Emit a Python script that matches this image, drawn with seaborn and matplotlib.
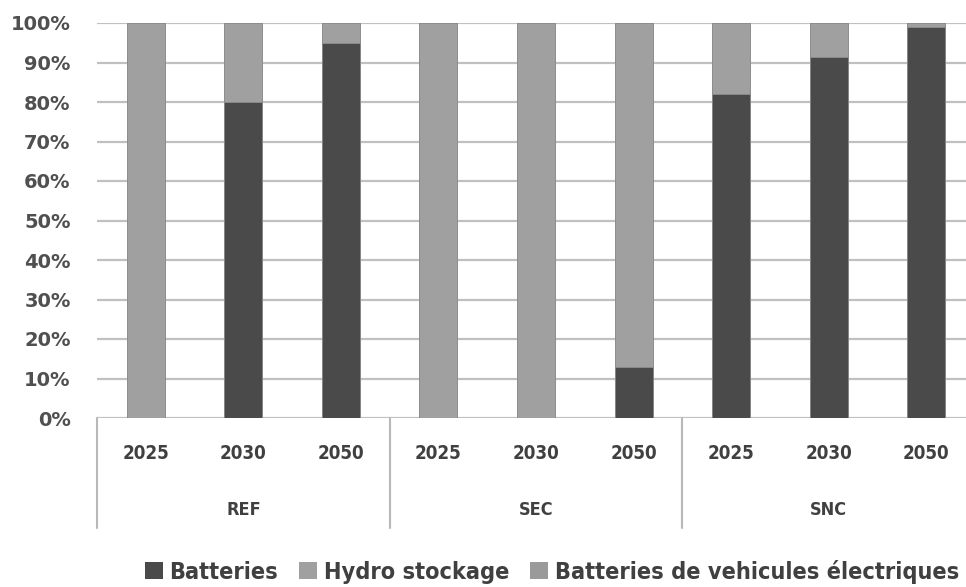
import pandas as pd
import matplotlib.pyplot as plt
import seaborn as sns
from matplotlib.patches import Patch

# Données (parts en %)
scenarios = ['REF', 'SEC', 'SNC']
annees = ['2025', '2030', '2050']
batteries = [0, 80, 95, 0, 0, 13, 82, 91.5, 99]
hydro = [100, 20, 5, 100, 100, 87, 18, 8.5, 1]
vehicules = [0, 0, 0, 0, 0, 0, 0, 0, 0]
series = ['Batteries', 'Hydro stockage', 'Batteries de vehicules électriques']
couleurs = ['#4a4a4a', '#a0a0a0', '#9a9a9a']

cats = [f'{s} {a}' for s in scenarios for a in annees]
df = pd.DataFrame({'cat': cats, 'Batteries': batteries,
                   'Hydro stockage': hydro, 'Vehicules': vehicules})
df['cum1'] = df['Batteries']
df['cum2'] = df['cum1'] + df['Hydro stockage']
df['cum3'] = df['cum2'] + df['Vehicules']

sns.set_style('white')
fig = plt.figure(figsize=(9.66, 5.87), dpi=100)
ax = fig.add_axes([97 / 966, 1 - 418 / 587, 878 / 966, 395 / 587])

# barres empilées : on dessine les cumuls du haut vers le bas
for col, c in zip(['cum3', 'cum2', 'cum1'], couleurs[::-1]):
    sns.barplot(data=df, x='cat', y=col, order=cats, color=c, width=0.39,
                edgecolor='#8c8c8c', linewidth=0.6, saturation=1, ax=ax, zorder=3)

ax.set_ylim(0, 100)
ax.set_xlim(-0.5, 8.5)
ax.set_yticks(range(0, 101, 10))
ax.set_yticklabels([f'{v}%' for v in range(0, 101, 10)],
                   fontfamily='DejaVu Sans', fontweight='bold', fontsize=14, color='#505050')
ax.tick_params(axis='y', length=0, pad=19)
ax.set_xticks([])
ax.set_xlabel('')
ax.set_ylabel('')
ax.yaxis.grid(True, color='#c0c0c0', linewidth=1.6, zorder=0)
ax.set_axisbelow(True)
for sp in ax.spines.values():
    sp.set_visible(False)

txt = dict(fontfamily='DejaVu Sans', fontweight='bold', fontstretch='condensed', color='#404040')

# axe des catégories à deux niveaux
trans = ax.get_xaxis_transform()
for x in [-0.5, 2.5, 5.5, 8.5]:
    ax.plot([x, x], [0, -0.278], transform=trans, color='#b8b8b8', lw=1.5, clip_on=False)
for i, cat in enumerate(cats):
    ax.text(i, -0.089, cat.split()[1], transform=trans, ha='center', va='center',
            fontsize=13.5, **txt)
for j, s in enumerate(scenarios):
    ax.text(3 * j + 1, -0.233, s, transform=trans, ha='center', va='center',
            fontsize=13, **txt)

handles = [Patch(facecolor=c, edgecolor='none') for c in couleurs]
leg = fig.legend(handles, series, loc='center', bbox_to_anchor=(552 / 966, 1 - 572 / 587),
                 ncol=3, frameon=False, handlelength=0.75, handleheight=0.75,
                 handletextpad=0.3, columnspacing=0.9,
                 prop={'family': 'DejaVu Sans', 'weight': 'bold', 'stretch': 'condensed',
                       'size': 16.8})
for t in leg.get_texts():
    t.set_color('#404040')

plt.savefig('out.png', dpi=100)
